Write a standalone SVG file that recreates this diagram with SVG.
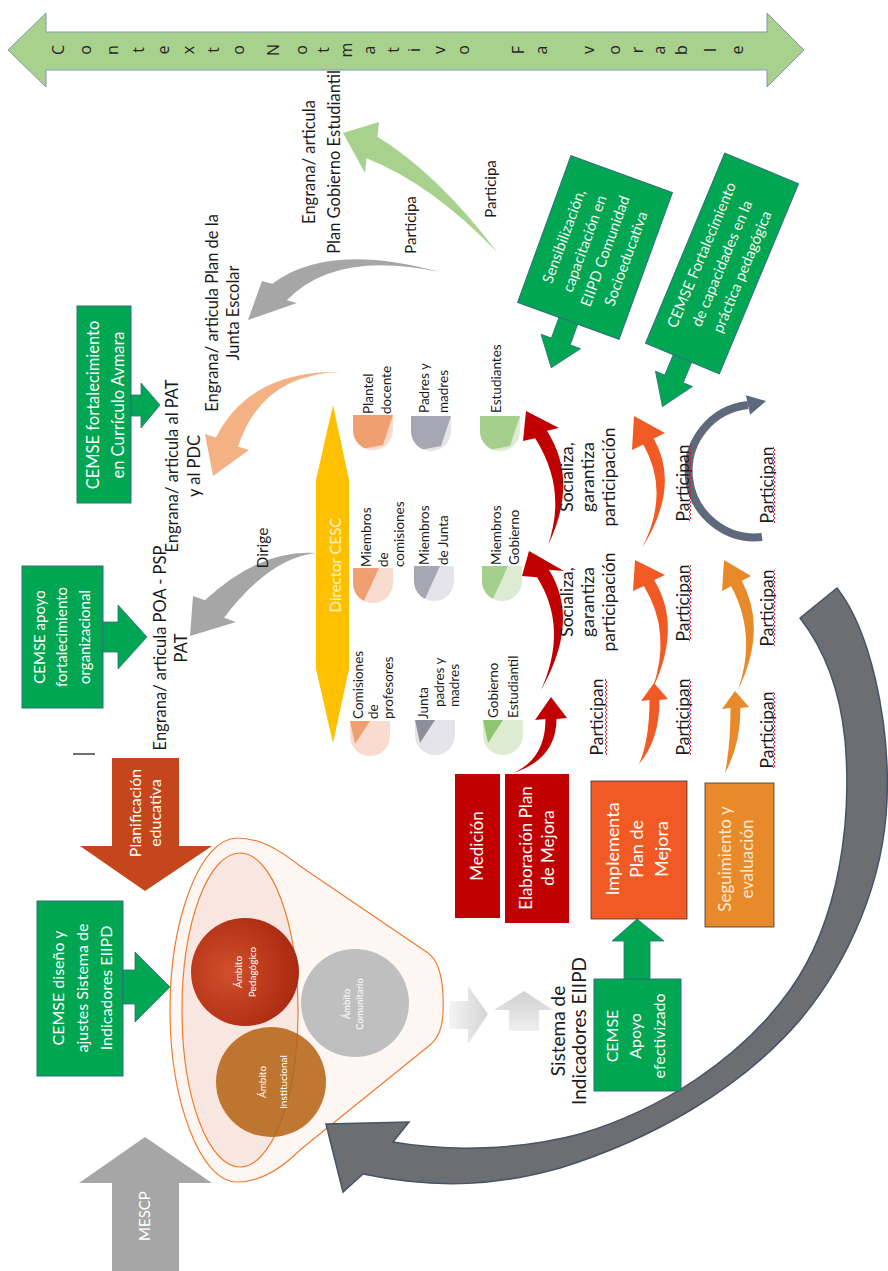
<svg xmlns="http://www.w3.org/2000/svg" width="888" height="1271" viewBox="0 0 888 1271">
<defs>
<style>
.f{font-family:Lato,"Open Sans","Liberation Sans",sans-serif}
.k{fill:#1a1a1a}
.w{fill:#ffffff}
.pl{fill:#f3f3f3}
.m{text-anchor:middle}
.g{fill:#00a651;stroke:#2f6f7f;stroke-width:1}
.lt{font-family:"Open Sans","DejaVu Sans",sans-serif;font-size:16px;fill:#262626;text-anchor:middle}
</style>
<pattern id="sq" width="4" height="4" patternUnits="userSpaceOnUse"><path d="M1,0 L3,2 L1,4" fill="none" stroke="#e01010" stroke-width="0.9"/></pattern>
<clipPath id="ic"><path d="M0,0H40V15A20,20 0 0 1 0,15Z"/></clipPath>
<linearGradient id="lg" x1="0" y1="0" x2="1" y2="0"><stop offset="0" stop-color="#f4f4f4"/><stop offset="1" stop-color="#d4d4d4"/></linearGradient>
<linearGradient id="lg2" x1="0" y1="1" x2="0" y2="0"><stop offset="0" stop-color="#efefef"/><stop offset="1" stop-color="#d0d0d0"/></linearGradient>
<radialGradient id="rp" cx="0.35" cy="0.5" r="0.7"><stop offset="0" stop-color="#d0502c"/><stop offset="1" stop-color="#a8260e"/></radialGradient>
</defs>

<!-- Contexto Normativo Favorable -->
<g id="contexto">
<polygon points="8,50 46,13 46,32 767,32 767,13 804,50 767,87 767,70 46,70 46,87" fill="#a9d18e" stroke="#7f9ab5" stroke-width="1"/>
<g class="lt">
<text x="58" y="56" transform="rotate(-90 58 50)">C</text>
<text x="85" y="56" transform="rotate(-90 85 50)">o</text>
<text x="112" y="56" transform="rotate(-90 112 50)">n</text>
<text x="138" y="56" transform="rotate(-90 138 50)">t</text>
<text x="163" y="56" transform="rotate(-90 163 50)">e</text>
<text x="188" y="56" transform="rotate(-90 188 50)">x</text>
<text x="213" y="56" transform="rotate(-90 213 50)">t</text>
<text x="238" y="56" transform="rotate(-90 238 50)">o</text>
<text x="273" y="56" transform="rotate(-90 273 50)">N</text>
<text x="301" y="56" transform="rotate(-90 301 50)">o</text>
<text x="323" y="56" transform="rotate(-90 323 50)">t</text>
<text x="346" y="56" transform="rotate(-90 346 50)">m</text>
<text x="369" y="56" transform="rotate(-90 369 50)">a</text>
<text x="393" y="56" transform="rotate(-90 393 50)">t</text>
<text x="414" y="56" transform="rotate(-90 414 50)">i</text>
<text x="439" y="56" transform="rotate(-90 439 50)">v</text>
<text x="463" y="56" transform="rotate(-90 463 50)">o</text>
<text x="518" y="56" transform="rotate(-90 518 50)">F</text>
<text x="541" y="56" transform="rotate(-90 541 50)">a</text>
<text x="588" y="56" transform="rotate(-90 588 50)">v</text>
<text x="614" y="56" transform="rotate(-90 614 50)">o</text>
<text x="637" y="56" transform="rotate(-90 637 50)">r</text>
<text x="659" y="56" transform="rotate(-90 659 50)">a</text>
<text x="681" y="56" transform="rotate(-90 681 50)">b</text>
<text x="710" y="56" transform="rotate(-90 710 50)">l</text>
<text x="737" y="56" transform="rotate(-90 737 50)">e</text>
</g>
</g>

<!-- funnel -->
<g id="funnel">
<path d="M237,838 C200,838 170,920 170,1010 C170,1100 200,1182 237,1182 C260,1182 280,1170 300,1150 L430,1045 C442,1035 444,1020 443,995 C442,975 438,960 428,953 L300,866 C280,850 260,838 237,838 Z" fill="#fdf6f2" stroke="#ed7d31" stroke-width="1.2"/>
<ellipse cx="240" cy="1010" rx="58" ry="157" fill="#f8e7e0" stroke="#ed7d31" stroke-width="1.2"/>
</g>
<g id="ped"><circle cx="245" cy="972" r="54" fill="url(#rp)"/>
<text class="f w m" font-size="10" transform="translate(0,972) rotate(-90)"><tspan x="0" y="241.5">Ámbito</tspan><tspan x="0" y="255.5">Pedagógico</tspan></text></g>
<g id="inst"><circle cx="271" cy="1082" r="55" fill="#b4600f" fill-opacity="0.85"/>
<text class="f w m" font-size="10" transform="translate(0,1082) rotate(-90)"><tspan x="0" y="265.5">Ámbito</tspan><tspan x="0" y="286.5">Institucional</tspan></text></g>
<g id="com"><circle cx="355" cy="1003" r="54" fill="#bfbfbf"/>
<text class="f w m" font-size="9.5" transform="translate(0,1004) rotate(-90)"><tspan x="0" y="349.5">Ámbito</tspan><tspan x="0" y="362.5">Comunitario</tspan></text></g>

<!-- light arrows -->
<g id="light-arrows">
<polygon points="449,1001 468,1001 468,986 488,1014 468,1044 468,1029 449,1029" fill="url(#lg)"/>
<polygon points="509,1031 509,1010 494,1010 524,991 553,1010 539,1010 539,1031" fill="url(#lg2)"/>
</g>
<g id="sistema"><text class="f k m" font-size="19" transform="translate(0,1031) rotate(-90)"><tspan x="0" y="564.7">Sistema de</tspan><tspan x="0" y="585.7">Indicadores EIIPD</tspan></text></g>

<!-- connectors -->
<g id="connectors">
<path d="M837,588 C870,630 890,720 887,800 C884,880 850,960 800,1020 C740,1090 650,1140 560,1168 C500,1185 440,1190 363,1174 L343,1192 L326,1124 L409,1122 L393,1142 C450,1152 520,1150 580,1134 C660,1110 740,1060 790,990 C840,920 852,820 845,740 C840,690 825,650 800,618 Z" fill="#6d6e71" stroke="#44546a" stroke-width="1.5"/>
<path d="M497,252 Q437.3,173.4 377.4,136.8 L379,122 L343,133 L365,173 L366.6,158.2 Q431.9,184.2 497,252 Z" fill="#a9d18e"/>
<path d="M440,272 Q328.1,241.4 272.2,283.8 L262,281 L248,320 L297,303 L286.8,300.2 Q335.5,249.6 440,272 Z" fill="#a6a6a6"/>
<path d="M340,372 Q250.1,370.3 215.9,437.4 L205,434 L213,476 L249,450 L238.1,446.6 Q261.1,374.9 340,372 Z" fill="#f4b183"/>
<path d="M316,553 Q260.1,549 204.9,600.3 L193,596 L190,636 L236,622 L224.1,617.7 Q269.7,557.8 316,553 Z" fill="#a6a6a6"/>
<path d="M513,773 Q545.5,759 545.5,719 L535,720 L551,697 L567,718 L556.5,719 Q556.5,759 513,773 Z" fill="#c00000"/>
<path d="M541,690 Q568.8,628.1 537.1,577.2 L522,576 L529,551 L564,571 L548.9,569.8 Q580.6,620.7 541,690 Z" fill="#c00000"/>
<path d="M548,545 Q567.4,488.9 535.1,438.3 L523,441 L526,411 L559,428 L546.9,430.7 Q579.2,481.3 548,545 Z" fill="#c00000"/>
<path d="M639,764 Q649.5,740 649.5,700 L641,701 L654,683 L668,699 L659.5,700 Q659.5,740 639,764 Z" fill="#f15a24"/>
<path d="M652,690 Q672.5,633.1 643.9,586.1 L633,591 L635,560 L665,575 L654.1,579.9 Q682.7,626.9 652,690 Z" fill="#f15a24"/>
<path d="M642,548 Q670.5,492.3 643.3,444.5 L632,450 L634,416 L665,433 L653.7,438.5 Q680.9,486.3 642,548 Z" fill="#f15a24"/>
<path d="M725,773 Q730.5,745 730.5,708 L722,709 L735,691 L749,707 L740.5,708 Q740.5,745 725,773 Z" fill="#e8892a"/>
<path d="M738,690 Q757.1,634.9 731.2,586.3 L722,591 L724,560 L751,576 L741.8,580.7 Q767.7,629.3 738,690 Z" fill="#e8892a"/>
<path d="M762,537 A66,66 0 0 1 748,405" fill="none" stroke="#5e6a7c" stroke-width="8"/>
<polygon points="766,401 745.9,395.2 750.1,414.8" fill="#5e6a7c"/>
<line x1="73" y1="754" x2="95" y2="754" stroke="#222" stroke-width="1.3"/>
</g>

<!-- labels -->
<g id="labels" class="f k m">
<text font-size="16.5" transform="translate(0,162) rotate(-90)"><tspan x="0" y="314.8">Engrana/ articula</tspan><tspan x="0" y="339.8">Plan Gobierno Estudiantil</tspan></text>
<text font-size="15" transform="translate(0,225) rotate(-90)" x="0" y="416">Participa</text>
<text font-size="15" transform="translate(0,189) rotate(-90)" x="0" y="496">Participa</text>
<text font-size="16.5" transform="translate(0,313) rotate(-90)"><tspan x="0" y="217.8">Engrana/ articula Plan de la</tspan><tspan x="0" y="238.8">Junta Escolar</tspan></text>
<text font-size="16.5" transform="translate(0,466) rotate(-90)"><tspan x="0" y="177.8">Engrana/ articula al PAT</tspan><tspan x="0" y="199.8">y al PDC</tspan></text>
<text font-size="15.5" transform="translate(0,548) rotate(-90)" x="0" y="268.4">Dirige</text>
<text font-size="16.5" transform="translate(0,648) rotate(-90)"><tspan x="0" y="165.8">Engrana/ articula POA - PSP</tspan><tspan x="0" y="186.8">PAT</tspan></text>
<text font-size="17.5" transform="translate(0,477) rotate(-90)"><tspan x="0" y="573">Socializa,</tspan><tspan x="0" y="594">garantiza</tspan><tspan x="0" y="615">participación</tspan></text>
<text font-size="17.5" transform="translate(0,602) rotate(-90)"><tspan x="0" y="573">Socializa,</tspan><tspan x="0" y="594">garantiza</tspan><tspan x="0" y="615">participación</tspan></text>
</g>

<g id="participan" class="f k m" font-size="17.5">
<text transform="translate(0,717) rotate(-90)" x="0" y="603">Participan</text>
<text transform="translate(0,717) rotate(-90)" x="0" y="689">Participan</text>
<text transform="translate(0,603) rotate(-90)" x="0" y="689">Participan</text>
<text transform="translate(0,483) rotate(-90)" x="0" y="689">Participan</text>
<text transform="translate(0,485) rotate(-90)" x="0" y="773">Participan</text>
<text transform="translate(0,608) rotate(-90)" x="0" y="773">Participan</text>
<text transform="translate(0,730) rotate(-90)" x="0" y="773">Participan</text>
<rect x="604" y="679" width="4" height="76" fill="url(#sq)"/>
<rect x="688" y="679" width="4" height="76" fill="url(#sq)"/>
<rect x="688" y="565" width="4" height="76" fill="url(#sq)"/>
<rect x="688" y="445" width="4" height="76" fill="url(#sq)"/>
<rect x="772" y="447" width="4" height="76" fill="url(#sq)"/>
<rect x="772" y="570" width="4" height="76" fill="url(#sq)"/>
<rect x="772" y="692" width="4" height="76" fill="url(#sq)"/>
</g>

<!-- green boxes -->
<g id="cemse-aymara">
<rect x="77" y="306" width="54" height="197" class="g"/>
<polygon points="131,395 141,395 141,383 160,405 141,428 141,416 131,416" fill="#00a651" stroke="#2f6f7f" stroke-width="0.8"/>
<text class="f w m" font-size="16.5" transform="translate(0,405) rotate(-90)"><tspan x="0" y="98.8">CEMSE fortalecimiento</tspan><tspan x="0" y="123.8">en Currículo Avmara</tspan></text>
</g>
<g id="cemse-org">
<rect x="22" y="566" width="81" height="142" class="g"/>
<polygon points="103,622 118,622 118,605 147,637 118,669 118,652 103,652" fill="#00a651" stroke="#2f6f7f" stroke-width="0.8"/>
<text class="f w m" font-size="15" transform="translate(0,637) rotate(-90)"><tspan x="0" y="45.3">CEMSE apoyo</tspan><tspan x="0" y="67.3">fortalecimiento</tspan><tspan x="0" y="90.3">organizacional</tspan></text>
</g>
<g id="cemse-diseno">
<rect x="37" y="901" width="86" height="175" class="g"/>
<polygon points="123,970 135,970 135,952 170,987 135,1022 135,1004 123,1004" fill="#00a651" stroke="#2f6f7f" stroke-width="0.8"/>
<text class="f w m" font-size="16" transform="translate(0,988) rotate(-90)"><tspan x="0" y="63.6">CEMSE diseño y</tspan><tspan x="0" y="87.6">ajustes Sistema de</tspan><tspan x="0" y="111.6">Indicadores EIIPD</tspan></text>
</g>
<g id="cemse-apoyo">
<rect x="594" y="979" width="87" height="112" class="g"/>
<polygon points="624,979 624,941 612,941 637,919 664,941 650,941 650,979" fill="#00a651" stroke="#2f6f7f" stroke-width="0.8"/>
<text class="f w m" font-size="16" transform="translate(0,1036) rotate(-90)"><tspan x="0" y="617.6">CEMSE</tspan><tspan x="0" y="640.6">Apoyo</tspan><tspan x="0" y="664.6">efectivizado</tspan></text>
</g>
<g id="sensibilizacion" transform="translate(595,247.5) rotate(-70)">
<rect x="-78" y="-54" width="156" height="108" class="g"/>
<polygon points="-78,-10 -100,-10 -100,-21 -128,0 -100,21 -100,10 -78,10" fill="#00a651" stroke="#2f6f7f" stroke-width="0.8"/>
<text class="f pl m" font-size="15"><tspan x="0" y="-28">Sensibilización,</tspan><tspan x="0" y="-6">capacitación en</tspan><tspan x="0" y="16">EIIPD Comunidad</tspan><tspan x="0" y="38">Socioeducativa</tspan></text>
</g>
<g id="cemse-practica" transform="translate(722,263.5) rotate(-67.4)">
<rect x="-103" y="-40" width="206" height="80" class="g"/>
<polygon points="-103,-10 -125,-10 -125,-20 -155,0 -125,20 -125,10 -103,10" fill="#00a651" stroke="#2f6f7f" stroke-width="0.8"/>
<text class="f pl m" font-size="15"><tspan x="0" y="-17">CEMSE Fortalecimiento</tspan><tspan x="0" y="5">de capacidades en la</tspan><tspan x="0" y="27">práctica pedagógica</tspan></text>
</g>

<!-- big arrows -->
<g id="planificacion">
<polygon points="112,758 179,758 179,846 212,846 145,891 80,846 112,846" fill="#c4461a"/>
<text class="f w m" font-size="16" transform="translate(0,813) rotate(-90)"><tspan x="0" y="140.6">Planificación</tspan><tspan x="0" y="160.6">educativa</tspan></text>
</g>
<g id="mescp">
<polygon points="145,1137 212,1183 179,1183 179,1271 112,1271 112,1183 79,1183" fill="#a6a6a6"/>
<text class="f w m" font-size="15" transform="translate(0,1216) rotate(-90)" x="0" y="150">MESCP</text>
</g>

<!-- process boxes -->
<g id="medicion"><rect x="455" y="774" width="45" height="144" fill="#c00000"/>
<text class="f w m" font-size="17" transform="translate(0,846) rotate(-90)" x="0" y="483">Medición</text></g>
<g id="elaboracion"><rect x="505" y="774" width="64" height="149" fill="#c00000"/>
<text class="f w m" font-size="17" transform="translate(0,848) rotate(-90)"><tspan x="0" y="532">Elaboración Plan</tspan><tspan x="0" y="554">de Mejora</tspan></text></g>
<g id="implementa"><rect x="591" y="781" width="96" height="138" fill="#f15a24" stroke="#333" stroke-width="0.8"/>
<text class="f w m" font-size="18" transform="translate(0,849) rotate(-90)"><tspan x="0" y="619.3">Implementa</tspan><tspan x="0" y="643.3">Plan de</tspan><tspan x="0" y="668.3">Mejora</tspan></text></g>
<g id="seguimiento"><rect x="705" y="783" width="69" height="144" fill="#e8892a" stroke="#333" stroke-width="0.8"/>
<text class="f m" fill="#fdebd3" font-size="17" transform="translate(0,859) rotate(-90)"><tspan x="0" y="731">Seguimiento y</tspan><tspan x="0" y="753">evaluación</tspan></text></g>

<!-- director -->
<g id="director">
<polygon points="333,405 349,480 349,669 333,743 316,669 316,480" fill="#ffc000"/>
<text class="f m" fill="#fff2cc" font-size="15" transform="translate(0,565) rotate(-90)" x="0" y="341.3">Director CESC</text>
</g>

<!-- icons -->
<g id="icon-plantel" transform="translate(353,415)"><path d="M0,0H40V15A20,20 0 0 1 0,15Z" fill="#fadbd0"/><path clip-path="url(#ic)" d="M0,0H40L30,30L4,35H0Z" fill="#f0a070"/></g>
<g id="icon-miembros-com" transform="translate(353,568)"><path d="M0,0H40V15A20,20 0 0 1 0,15Z" fill="#fadbd0"/><path clip-path="url(#ic)" d="M0,0H26L10,35H0Z" fill="#f0a070"/></g>
<g id="icon-comisiones" transform="translate(350,721)"><path d="M0,0H40V15A20,20 0 0 1 0,15Z" fill="#fadbd0"/><path clip-path="url(#ic)" d="M0,0H20L5,23Z" fill="#f0a070"/></g>
<g id="icon-padres" transform="translate(411,416)"><path d="M0,0H40V15A20,20 0 0 1 0,15Z" fill="#e4e4ea"/><path clip-path="url(#ic)" d="M0,0H40L30,30L4,35H0Z" fill="#a7a7b3"/></g>
<g id="icon-miembros-junta" transform="translate(414,566)"><path d="M0,0H40V15A20,20 0 0 1 0,15Z" fill="#e4e4ea"/><path clip-path="url(#ic)" d="M0,0H26L10,35H0Z" fill="#a7a7b3"/></g>
<g id="icon-junta" transform="translate(415,720)"><path d="M0,0H40V15A20,20 0 0 1 0,15Z" fill="#e4e4ea"/><path clip-path="url(#ic)" d="M0,0H20L5,23Z" fill="#8f8f9c"/></g>
<g id="icon-estudiantes" transform="translate(480,416)"><path d="M0,0H40V15A20,20 0 0 1 0,15Z" fill="#dcebd2"/><path clip-path="url(#ic)" d="M0,0H40L30,30L4,35H0Z" fill="#a5cf8c"/></g>
<g id="icon-miembros-gob" transform="translate(482,566)"><path d="M0,0H40V15A20,20 0 0 1 0,15Z" fill="#dcebd2"/><path clip-path="url(#ic)" d="M0,0H26L10,35H0Z" fill="#a5cf8c"/></g>
<g id="icon-gobierno" transform="translate(483,720)"><path d="M0,0H40V15A20,20 0 0 1 0,15Z" fill="#dcebd2"/><path clip-path="url(#ic)" d="M0,0H20L5,23Z" fill="#8fc471"/></g>

<g id="icon-labels" class="f k" font-size="13.5">
<text transform="translate(0,414) rotate(-90)"><tspan x="0" y="372.7">Plantel</tspan><tspan x="0" y="390.7">docente</tspan></text>
<text transform="translate(0,413) rotate(-90)"><tspan x="0" y="428.7">Padres y</tspan><tspan x="0" y="447.7">madres</tspan></text>
<text transform="translate(0,413) rotate(-90)" x="0" y="500.7">Estudiantes</text>
<text transform="translate(0,567) rotate(-90)"><tspan x="0" y="370.7">Miembros</tspan><tspan x="0" y="387.7">de</tspan><tspan x="0" y="403.7">comisiones</tspan></text>
<text transform="translate(0,565) rotate(-90)"><tspan x="0" y="428.7">Miembros</tspan><tspan x="0" y="447.7">de Junta</tspan></text>
<text transform="translate(0,565) rotate(-90)"><tspan x="0" y="500.7">Miembros</tspan><tspan x="0" y="518.7">Gobierno</tspan></text>
<text transform="translate(0,719) rotate(-90)"><tspan x="0" y="362.7">Comisiones</tspan><tspan x="0" y="377.7">de</tspan><tspan x="0" y="392.7">profesores</tspan></text>
<text transform="translate(0,719) rotate(-90)" x="0" y="427.7">Junta</text>
<text transform="translate(0,707) rotate(-90)"><tspan x="0" y="443.7">padres y</tspan><tspan x="0" y="458.7">madres</tspan></text>
<text transform="translate(0,718) rotate(-90)"><tspan x="0" y="497.7">Gobierno</tspan><tspan x="0" y="517.7">Estudiantil</tspan></text>
</g>
</svg>
